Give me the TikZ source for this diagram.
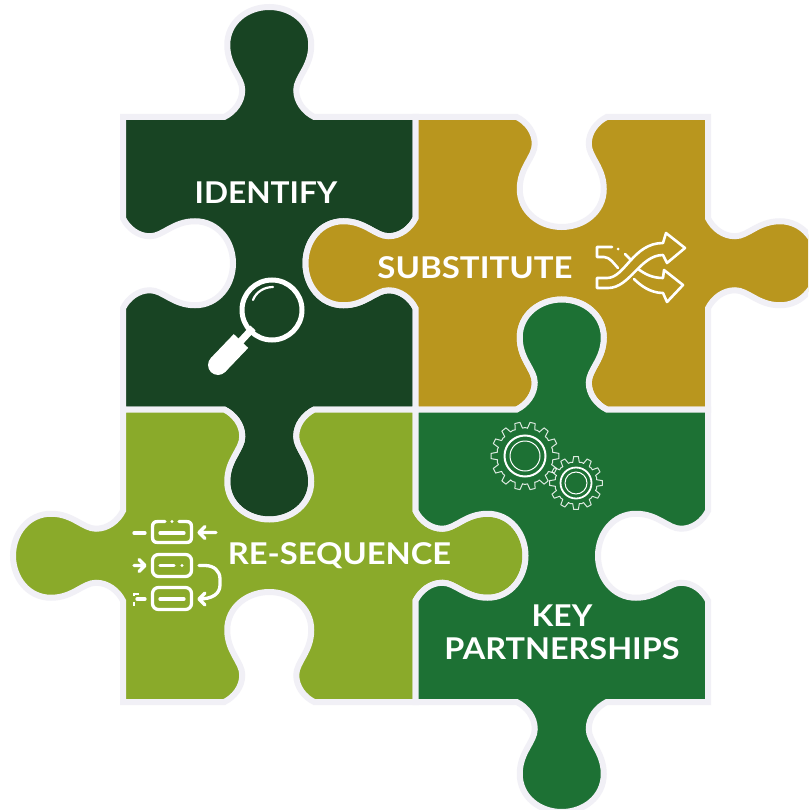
\documentclass[tikz,border=0pt]{standalone}
\usepackage{graphicx}
\usepackage{fontspec}
\setmainfont{Lato}
\definecolor{edgewhite}{HTML}{F1F0F6}
\definecolor{darkg}{HTML}{184423}
\definecolor{gold}{HTML}{B9961E}
\definecolor{lime}{HTML}{8AAA2A}
\definecolor{midg}{HTML}{1D7134}
% point of a tab profile: cx cy tx ty sign a b
\newcommand\tabpt[7]{({#1+(#6)*(#3)+(#5)*(#7)*(#4)},{#2+(#6)*(#4)-(#5)*(#7)*(#3)})}
\newcommand\tabcurve[5]{-- \tabpt{#1}{#2}{#3}{#4}{#5}{-45}{0}
 .. controls \tabpt{#1}{#2}{#3}{#4}{#5}{-35}{5} and \tabpt{#1}{#2}{#3}{#4}{#5}{-27}{15} .. \tabpt{#1}{#2}{#3}{#4}{#5}{-27}{27}
 .. controls \tabpt{#1}{#2}{#3}{#4}{#5}{-27}{40} and \tabpt{#1}{#2}{#3}{#4}{#5}{-42}{50} .. \tabpt{#1}{#2}{#3}{#4}{#5}{-42}{72}
 .. controls \tabpt{#1}{#2}{#3}{#4}{#5}{-42}{95} and \tabpt{#1}{#2}{#3}{#4}{#5}{-22}{110} .. \tabpt{#1}{#2}{#3}{#4}{#5}{0}{110}
 .. controls \tabpt{#1}{#2}{#3}{#4}{#5}{22}{110} and \tabpt{#1}{#2}{#3}{#4}{#5}{42}{95} .. \tabpt{#1}{#2}{#3}{#4}{#5}{42}{72}
 .. controls \tabpt{#1}{#2}{#3}{#4}{#5}{42}{50} and \tabpt{#1}{#2}{#3}{#4}{#5}{27}{40} .. \tabpt{#1}{#2}{#3}{#4}{#5}{27}{27}
 .. controls \tabpt{#1}{#2}{#3}{#4}{#5}{27}{15} and \tabpt{#1}{#2}{#3}{#4}{#5}{35}{5} .. \tabpt{#1}{#2}{#3}{#4}{#5}{45}{0}
 }
% gear: cx cy tipR rootR teeth
\newcommand\geardraw[5]{%
 \begin{scope}[shift={(#1,#2)}]
 \pgfmathsetmacro\gstep{360/#5}
 \foreach \i in {1,...,#5}{%
  \pgfmathsetmacro\ga{\i*\gstep}
  \draw[gearline] ({\ga-0.30*\gstep}:#4) -- ({\ga-0.17*\gstep}:#3) -- ({\ga+0.17*\gstep}:#3) -- ({\ga+0.30*\gstep}:#4) -- ({\ga+0.5*\gstep}:#4+0.4) -- ({\ga+0.70*\gstep}:#4);
 }
 \end{scope}}
\tikzset{
 x=1pt,y=-1pt,
 piece/.style={draw=edgewhite,line width=6pt,line join=miter,miter limit=6},
 label/.style={text=white,font=\bfseries\fontsize{30}{30}\selectfont,anchor=base,inner sep=0pt,outer sep=0pt},
 icon/.style={draw=white,line width=3.3pt,line cap=round,line join=round},
 thinicon/.style={draw=white,line width=2.6pt,line cap=round,line join=round},
 gearline/.style={draw=white,opacity=.85,line width=1pt,line join=round,line cap=round},
}
\begin{document}
\begin{tikzpicture}
\path[use as bounding box,clip] (0,0) rectangle (808,810);
\fill[white] (0,0) rectangle (808,810);
% pieces
\path[piece,fill=darkg] (123,117) \tabcurve{269.25}{117}{1}{0}{1} -- (415.5,117) \tabcurve{415.5}{263.25}{0}{1}{-1} -- (415.5,409.5) \tabcurve{269.25}{409.5}{-1}{0}{1} -- (123,409.5) \tabcurve{123}{263.25}{0}{-1}{-1} -- cycle;
\path[piece,fill=gold] (415.5,117) \tabcurve{561.75}{117}{1}{0}{-1} -- (708,117) \tabcurve{708}{263.25}{0}{1}{1} -- (708,409.5) \tabcurve{561.75}{409.5}{-1}{0}{-1} -- (415.5,409.5) \tabcurve{415.5}{263.25}{0}{-1}{1} -- cycle;
\path[piece,fill=lime] (123,409.5) \tabcurve{269.25}{409.5}{1}{0}{-1} -- (415.5,409.5) \tabcurve{415.5}{555.75}{0}{1}{1} -- (415.5,702) \tabcurve{269.25}{702}{-1}{0}{-1} -- (123,702) \tabcurve{123}{555.75}{0}{-1}{1} -- cycle;
\path[piece,fill=midg] (415.5,409.5) \tabcurve{561.75}{409.5}{1}{0}{1} -- (708,409.5) \tabcurve{708}{555.75}{0}{1}{-1} -- (708,702) \tabcurve{561.75}{702}{-1}{0}{1} -- (415.5,702) \tabcurve{415.5}{555.75}{0}{-1}{-1} -- cycle;
% labels
\node[label] (identify) at (266,204) {\scalebox{1.054}[1]{IDENTIFY}};
\node[label] (substitute) at (475,278) {\scalebox{1.10}[1]{SUBSTITUTE}};
\node[label] (resequence) at (339.5,564) {\scalebox{1.09}[1]{RE-SEQUENCE}};
\node[label] (key) at (562,626) {\scalebox{1.06}[1]{KEY}};
\node[label] (partnerships) at (562,659) {\scalebox{1.08}[1]{PARTNERSHIPS}};
% magnifier
\draw[white,line width=5pt] (272,310) circle (30);
\draw[white,line width=2.2pt,line cap=round] (253,300) .. controls (256,292) and (264,287) .. (273,287);
\draw[white,line width=7pt] (253,328) -- (240,342);
\draw[white,line width=20pt] (241,341) -- (218,365);
\fill[white] (218,365) circle (10);
% re-sequence icon
\draw[icon] (165,521.5) -- (158,521.5) .. controls (154,521.5) and (152.5,523) .. (152.5,527) -- (152.5,537) .. controls (152.5,541) and (154,542.5) .. (158,542.5) -- (186,542.5) .. controls (190,542.5) and (191.5,541) .. (191.5,537) -- (191.5,527) .. controls (191.5,523) and (190,521.5) .. (186,521.5) -- (179,521.5);
\fill[white] (172,521.5) circle (1.6);
\draw[icon] (160,533) -- (184,533);
\draw[icon,rounded corners=6pt] (152.5,554.5) rectangle (191.5,576.5);
\draw[icon] (160,565.5) -- (174,565.5);
\fill[white] (182,565.5) circle (1.6);
\draw[icon,rounded corners=6pt] (152.5,587.5) rectangle (191.5,609.5);
\draw[icon] (160,599) -- (184,599);
\draw[icon] (134,533) -- (145,533);
\draw[icon] (134,565.5) -- (144,565.5) (139,559.5) -- (145,565.5) -- (139,571.5);
\draw[icon] (137,599) -- (145,599);
\draw[white,line width=2.4pt] (134,592.5) -- (134,596) (134,602) -- (134,605.5) (134,594) -- (139,594);
\draw[icon] (216,532.5) -- (199,532.5) (205,526.5) -- (199,532.5) -- (205,538.5);
\draw[icon] (199,565.5) -- (205,565.5) .. controls (214,565.5) and (220,571) .. (220,579) -- (220,585) .. controls (220,594) and (212,599) .. (199,599) (205,593) -- (199,599) -- (205,605);
% shuffle icon
\draw[thinicon] (597,278) -- (607,278) .. controls (625,278) and (633,243) .. (663,243) -- (666,233) -- (685,248) -- (667,263) -- (663,255) .. controls (640,255) and (630,288) .. (608,288) -- (597,288) -- cycle;
\draw[thinicon] (612,247) -- (597,247) -- (597,257) -- (604,257) .. controls (610,257) and (614,264) .. (618,268);
\fill[white] (618,249) circle (1.5);
\draw[thinicon] (625,254) -- (630,259);
\draw[thinicon] (638,269) .. controls (645,274) and (652,278) .. (663,278) -- (664,270) -- (683,285) -- (667,302) -- (663,293) .. controls (650,293) and (640,285) .. (634,279);
% gears
\geardraw{525}{456}{34}{28}{14}
\geardraw{576}{483}{26.5}{21}{12}
\draw[white,line width=2pt] (525,456) circle (20.5);
\draw[white,line width=1pt] (525,456) circle (15);
\draw[white,line width=1.8pt] (576,483) circle (15.5);
\draw[white,line width=1pt] (576,483) circle (11);
\end{tikzpicture}
\end{document}
